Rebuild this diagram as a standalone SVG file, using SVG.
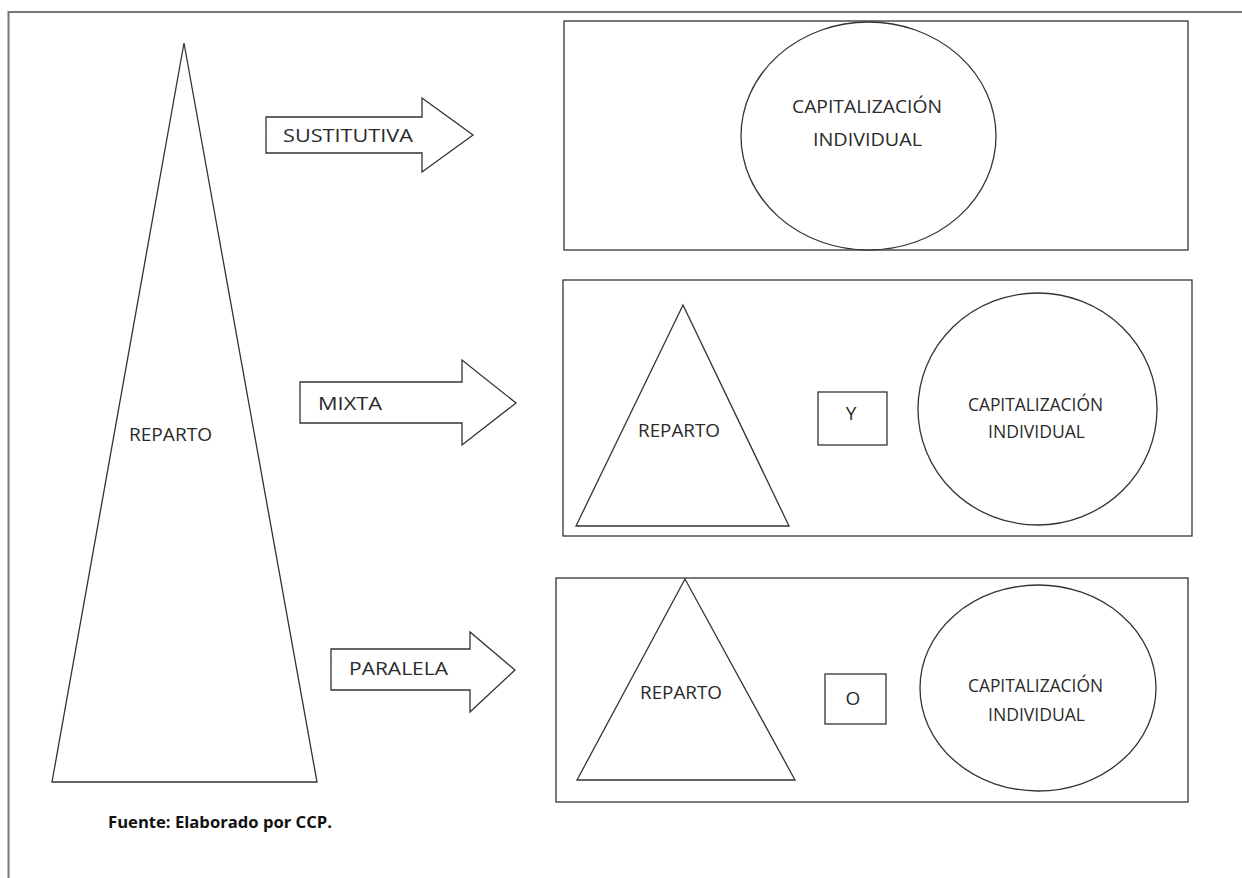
<svg xmlns="http://www.w3.org/2000/svg" width="1242" height="878" viewBox="0 0 1242 878">
<style>
.bg{fill:#fff}
.frame{fill:none;stroke:#777;stroke-width:2}
.shape{fill:#fff;stroke:#333;stroke-width:1.3}
.t{font-family:"Open Sans",Lato,"Liberation Sans",sans-serif;font-size:19px;fill:#2a2a2a}
.src{font-family:"Open Sans",Lato,"Liberation Sans",sans-serif;font-size:16px;font-weight:bold;fill:#111}
</style>
<rect class="bg" x="0" y="0" width="1242" height="878"/>
<rect class="frame" x="8.5" y="12" width="1300" height="1000"/>
<g id="reparto-main">
<polygon class="shape" points="184,43 52,782 317,782"/>
<text class="t" x="129" y="441" textLength="83" lengthAdjust="spacingAndGlyphs">REPARTO</text>
</g>
<g id="connectors">
<g id="arrow-sustitutiva">
<polygon class="shape" points="266,117 422,117 422,98 473,135 422,172 422,153 266,153"/>
<text class="t" x="283" y="142" textLength="130" lengthAdjust="spacingAndGlyphs">SUSTITUTIVA</text>
</g>
<g id="arrow-mixta">
<polygon class="shape" points="300,382 462,382 462,360 516,403 462,445 462,423 300,423"/>
<text class="t" x="318" y="410" textLength="64" lengthAdjust="spacingAndGlyphs">MIXTA</text>
</g>
<g id="arrow-paralela">
<polygon class="shape" points="331,649 470,649 470,632 515,670 470,712 470,690 331,690"/>
<text class="t" x="349" y="675" textLength="99" lengthAdjust="spacingAndGlyphs">PARALELA</text>
</g>
</g>
<g id="panel-sustitutiva">
<rect class="shape" x="564" y="21" width="624" height="229"/>
<ellipse class="shape" cx="868.5" cy="136" rx="127.5" ry="114"/>
<text class="t" x="792" y="113" textLength="150" lengthAdjust="spacingAndGlyphs">CAPITALIZACIÓN</text>
<text class="t" x="813" y="146" textLength="109" lengthAdjust="spacingAndGlyphs">INDIVIDUAL</text>
</g>
<g id="panel-mixta">
<rect class="shape" x="563" y="280" width="629" height="256"/>
<polygon class="shape" points="683,305 576,526 789,526"/>
<text class="t" x="638" y="437" textLength="82" lengthAdjust="spacingAndGlyphs">REPARTO</text>
<rect class="shape" x="818" y="392" width="69" height="53"/>
<text class="t" x="851" y="420" text-anchor="middle">Y</text>
<ellipse class="shape" cx="1037.5" cy="409" rx="119.5" ry="116"/>
<text class="t" x="968" y="411" textLength="135" lengthAdjust="spacingAndGlyphs">CAPITALIZACIÓN</text>
<text class="t" x="988" y="438" textLength="97" lengthAdjust="spacingAndGlyphs">INDIVIDUAL</text>
</g>
<g id="panel-paralela">
<rect class="shape" x="556" y="578" width="632" height="224"/>
<polygon class="shape" points="685,579 577,780 795,780"/>
<text class="t" x="640" y="699" textLength="82" lengthAdjust="spacingAndGlyphs">REPARTO</text>
<rect class="shape" x="825" y="674" width="61" height="50"/>
<text class="t" x="853" y="705" text-anchor="middle">O</text>
<ellipse class="shape" cx="1038" cy="688" rx="118" ry="103"/>
<text class="t" x="968" y="692" textLength="135" lengthAdjust="spacingAndGlyphs">CAPITALIZACIÓN</text>
<text class="t" x="988" y="721" textLength="97" lengthAdjust="spacingAndGlyphs">INDIVIDUAL</text>
</g>
<text class="src" x="108" y="828" textLength="224" lengthAdjust="spacingAndGlyphs">Fuente: Elaborado por CCP.</text>
</svg>
